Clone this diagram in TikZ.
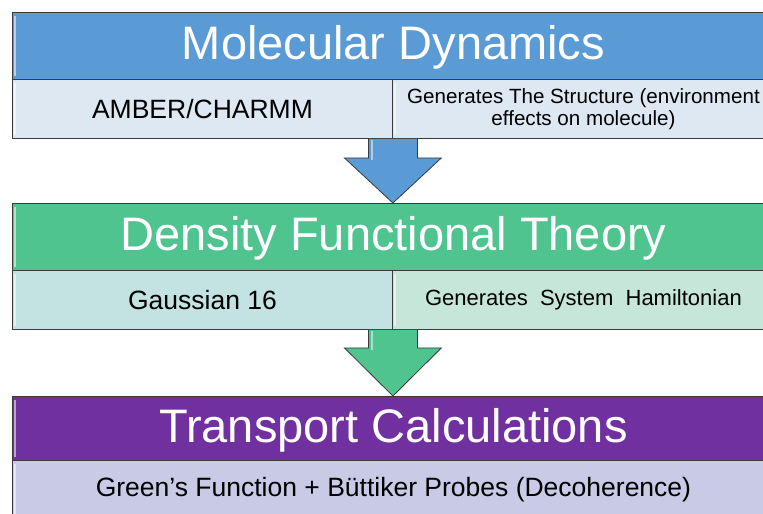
\documentclass[tikz,border=0pt]{standalone}
\usepackage{fontspec}
\setmainfont{Liberation Sans}
\usetikzlibrary{calc}
\definecolor{mdblue}{HTML}{5B9BD5}
\definecolor{mdlight}{HTML}{DDE8F3}
\definecolor{dftgreen}{HTML}{4FC48E}
\definecolor{dftlightL}{HTML}{C2E3E2}
\definecolor{dftlightR}{HTML}{C5E6D8}
\definecolor{trpurple}{HTML}{7030A0}
\definecolor{trlight}{HTML}{C8CAE6}
\definecolor{edge}{HTML}{3A3A3A}
\begin{document}
\begin{tikzpicture}[x=1pt,y=-1pt,
  cell/.style={draw=edge, line width=0.9pt, inner sep=0pt, anchor=north west, align=center},
  titlecell/.style={cell, minimum width=762pt, minimum height=67pt, text=white, font=\fontsize{47}{47}\selectfont, text height=36pt, text depth=8pt},
  subcell/.style={cell, minimum height=59pt, font=\fontsize{26.5}{28}\selectfont},
  flowarrow/.style={draw=edge, line width=0.8pt, line join=miter},
  hl/.style={draw=white, opacity=0.55, line width=1.6pt}]
\useasboundingbox (0,0) rectangle (763,514);
\clip (0,0) rectangle (763,514);

% Molecular Dynamics block
\node[titlecell, fill=mdblue] (mdT) at (12,12) {Molecular Dynamics};
\node[subcell, fill=mdlight, minimum width=380pt] (mdL) at (12,79) {AMBER/CHARMM};
\node[subcell, fill=mdlight, minimum width=382pt, font=\fontsize{20.6}{22}\selectfont] (mdR) at (392,79) {Generates The Structure (environment\\effects on molecule)};

% DFT block
\node[titlecell, fill=dftgreen] (dftT) at (12,203) {Density Functional Theory};
\node[subcell, fill=dftlightL, minimum width=380pt] (dftL) at (12,270) {Gaussian 16};
\node[subcell, fill=dftlightR, minimum width=382pt, font=\fontsize{22}{24}\selectfont] (dftR) at (392,270) {Generates\ \ System\ \ Hamiltonian};

% Transport block
\node[titlecell, fill=trpurple, minimum height=64pt] (trT) at (12,396) {Transport Calculations};
\node[subcell, fill=trlight, minimum width=762pt] (trB) at (12,460) {Green’s Function + Büttiker Probes (Decoherence)};

% bevel highlights
\foreach \n in {mdT,mdL,mdR,dftT,dftL,dftR,trT,trB}{
  \draw[hl] ([xshift=3pt,yshift=-4pt]\n.north west) -- ([xshift=3pt,yshift=4pt]\n.south west);
}

% arrows
\draw[flowarrow, fill=mdblue]
  ([xshift=-24.5pt]mdL.south east) -- ++(0,19) -- ++(-24,0)
  -- (mdL.south east |- dftT.north)
  -- ([xshift=48.5pt,yshift=-19pt]mdL.south east) -- ++(-24,0) -- ([xshift=24.5pt]mdL.south east);
\draw[white, opacity=0.5, line width=1.5pt] ([xshift=-21pt,yshift=-1pt]mdL.south east) -- ++(0,20);
\draw[flowarrow, fill=dftgreen]
  ([xshift=-24.5pt]dftL.south east) -- ++(0,18) -- ++(-24,0)
  -- (dftL.south east |- trT.north)
  -- ([xshift=48.5pt,yshift=-18pt]dftL.south east) -- ++(-24,0) -- ([xshift=24.5pt]dftL.south east);
\draw[white, opacity=0.5, line width=1.5pt] ([xshift=-21pt,yshift=-1pt]dftL.south east) -- ++(0,19);
\end{tikzpicture}
\end{document}
